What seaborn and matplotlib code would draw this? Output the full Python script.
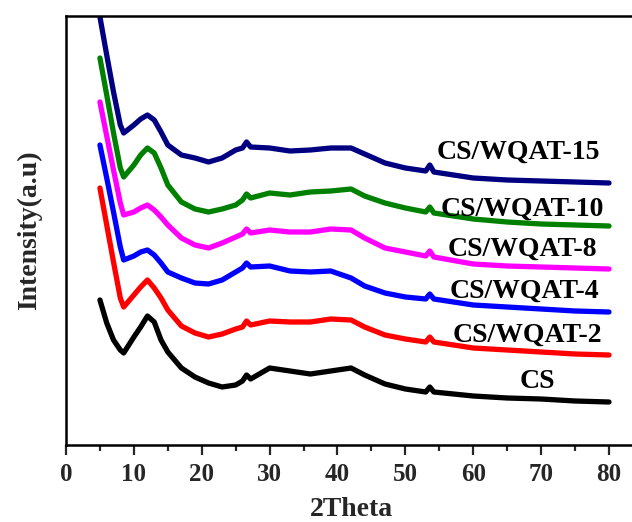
import numpy as np
import pandas as pd
import matplotlib
matplotlib.use("Agg")
import matplotlib.pyplot as plt
import seaborn as sns

two_theta = [5, 6, 7, 8, 8.5, 10, 11, 12, 13, 14, 15, 17, 19, 21, 23, 25, 26, 26.6, 27.2,
             30, 33, 36, 39, 42, 44, 47, 50, 53, 53.6, 54.2, 60, 65, 70, 75, 80]

cs = [145, 122, 105, 95, 92, 108, 118, 129, 123, 105, 93, 77, 68, 62, 58, 60, 64, 70, 66,
      77, 74, 71, 74, 77, 70, 61, 56, 53, 58, 53, 49, 47, 46, 44, 43]
cs_wqat_2 = [257, 220, 183, 147, 138, 150, 158, 165, 157, 147, 135, 119, 112, 108, 111, 116, 118, 124, 120,
             124, 123, 123, 126, 125, 118, 110, 106, 103, 108, 103, 97, 95, 93, 91, 90]
cs_wqat_4 = [300, 267, 233, 198, 185, 189, 193, 195, 190, 182, 173, 167, 162, 161, 165, 173, 177, 182, 178,
             179, 174, 173, 174, 167, 159, 152, 148, 146, 151, 146, 140, 138, 136, 134, 133]
cs_wqat_8 = [343, 309, 275, 242, 230, 233, 237, 240, 235, 228, 220, 207, 200, 197, 202, 208, 211, 216, 212,
             215, 213, 213, 216, 215, 207, 197, 193, 189, 194, 188, 181, 179, 178, 177, 176]
cs_wqat_10 = [387, 350, 312, 277, 268, 280, 290, 297, 292, 277, 260, 243, 236, 233, 236, 240, 245, 251, 247,
              252, 250, 253, 254, 256, 249, 242, 237, 233, 238, 232, 226, 223, 221, 220, 219]
cs_wqat_15 = [428, 390, 353, 320, 312, 320, 326, 330, 325, 313, 300, 290, 287, 283, 287, 295, 297, 303, 298,
              297, 294, 295, 297, 297, 291, 282, 277, 274, 280, 273, 267, 265, 264, 263, 262]

samples = ["CS", "CS/WQAT-2", "CS/WQAT-4", "CS/WQAT-8", "CS/WQAT-10", "CS/WQAT-15"]
series = [cs, cs_wqat_2, cs_wqat_4, cs_wqat_8, cs_wqat_10, cs_wqat_15]
colors = ["#000000", "#FF0000", "#0000FF", "#FF00FF", "#008000", "#000080"]

rows = []
for name, vals in zip(samples, series):
    for x, y in zip(two_theta, vals):
        rows.append({"2Theta": x, "Intensity": y, "sample": name})
df = pd.DataFrame(rows)

sns.set_theme(style="ticks")
plt.rcParams["font.family"] = ["Liberation Serif", "DejaVu Serif"]
plt.rcParams["font.weight"] = "bold"

W, H = 632, 522
fig = plt.figure(figsize=(W / 100, H / 100), dpi=100)
px_per_unit = (609 - 66) / 80.0
xmax = 84
ax = fig.add_axes([66 / W, 1 - 445 / H, xmax * px_per_unit / W, (445 - 16) / H])

sns.lineplot(data=df, x="2Theta", y="Intensity", hue="sample", hue_order=samples,
             palette=colors, estimator=None, sort=False, linewidth=3.8,
             legend=False, ax=ax)
for ln in ax.lines:
    ln.set_solid_joinstyle("round")
    ln.set_solid_capstyle("round")

ax.set_xlim(0, xmax)
ax.set_ylim(0, 429)
ax.set_yticks([])
ax.set_xticks(np.arange(0, 81, 10))
ax.set_xticks(np.arange(5, 80, 10), minor=True)
ax.tick_params(axis="x", which="major", direction="out", length=7, width=1.6,
               labelsize=18, pad=6)
ax.tick_params(axis="x", which="minor", direction="out", length=4, width=1.6)
for lab in ax.get_xticklabels():
    lab.set_fontweight("bold")
for sp in ax.spines.values():
    sp.set_linewidth(1.8)
    sp.set_color("black")
ax.spines["right"].set_visible(False)

ax.set_xlabel("2Theta", fontsize=20, fontweight="bold", labelpad=8)
ax.set_ylabel("Intensity(a.u)", fontsize=20, fontweight="bold", labelpad=17)

label_pos = [(69.4, 63), (68.0, 110), (67.5, 154), (67.3, 196), (67.2, 236), (66.7, 293)]
for name, (lx, ly) in zip(samples, label_pos):
    ax.text(lx, ly, name, fontsize=20, fontweight="bold", ha="center", va="center",
            color="black")

fig.savefig("out.png", dpi=100)
